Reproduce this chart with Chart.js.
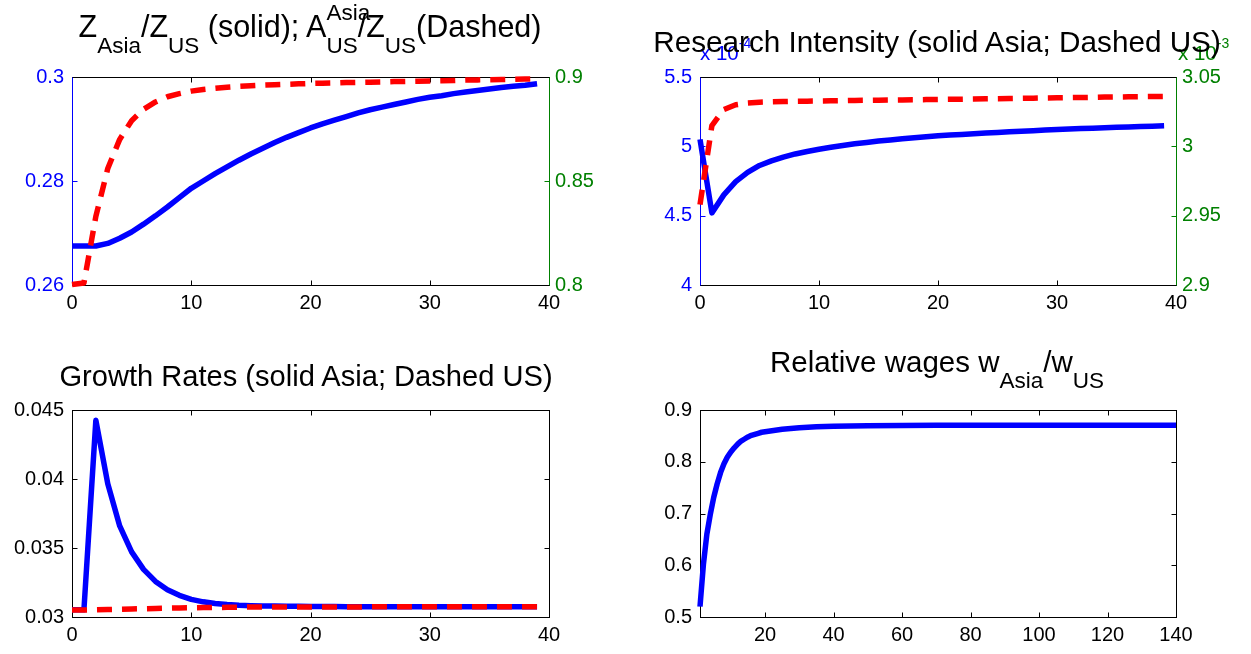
<!DOCTYPE html>
<html><head><meta charset="utf-8">
<script src="https://cdn.jsdelivr.net/npm/chart.js@4.4.0/dist/chart.umd.min.js"></script>
<style>
html,body{margin:0;padding:0;background:#fff;}
#fig{position:relative;width:1251px;height:654px;overflow:hidden;background:#fff;font-family:"Liberation Sans",Arial,sans-serif;}
canvas{position:absolute;}
.ttl{position:absolute;width:800px;text-align:center;font-size:29.5px;line-height:1;color:#000;white-space:nowrap;}
.sb{font-size:22.5px;position:relative;top:16px;}
.ss{display:inline-block;position:relative;font-size:22.5px;line-height:1;}
.ss .lo{position:relative;top:16px;}
.ss .hi{position:absolute;left:0;top:-17px;}
.exp{position:absolute;font-size:20.5px;line-height:1;white-space:nowrap;}
.exp .e{font-size:14px;position:relative;top:-12px;}
</style>
</head><body>
<div id="fig">
<canvas id="c1"></canvas><canvas id="c2"></canvas><canvas id="c3"></canvas><canvas id="c4"></canvas>
<div class="exp" style="left:700px;top:43px;color:#0000ff;">x 10<span class="e">-4</span></div>
<div class="exp" style="left:1178px;top:43px;color:#008000;">x 10<span class="e">-3</span></div>
<div class="ttl" style="left:-90px;top:11px;font-size:30.5px;">Z<span class="sb">Asia</span>/Z<span class="sb">US</span> (solid); A<span class="ss"><span class="lo">US</span><span class="hi">Asia</span></span>/Z<span class="sb">US</span>(Dashed)</div>
<div class="ttl" style="left:537px;top:27px;font-size:29.7px;">Research Intensity (solid Asia; Dashed US)</div>
<div class="ttl" style="left:-94px;top:362px;font-size:29.1px;">Growth Rates (solid Asia; Dashed US)</div>
<div class="ttl" style="left:537px;top:347px;">Relative wages w<span class="sb">Asia</span>/w<span class="sb">US</span></div>
</div>
<script>
// ---------- data ----------
const periods = [0,1,2,3,4,5,6,7,8,9,10,11,12,13,14,15,16,17,18,19,20,21,22,23,24,25,26,27,28,29,30,31,32,33,34,35,36,37,38,39];
// Panel 1: Z_Asia/Z_US (left axis, solid) and A^Asia_US/Z_US (right axis, dashed)
const zRatioAsiaUS = [0.2675,0.2675,0.2675,0.2680,0.2690,0.2702,0.2717,0.2733,0.2750,0.2768,0.2786,0.2800,0.2814,0.2827,0.2840,0.2852,0.2863,0.2874,0.2884,0.2893,0.2902,0.2910,0.2917,0.2924,0.2931,0.2937,0.2942,0.2947,0.2952,0.2957,0.2961,0.2964,0.2968,0.2971,0.2974,0.2977,0.2980,0.2982,0.2984,0.2987];
const aRatioUS = [0.8002,0.8010,0.8330,0.8560,0.8700,0.8790,0.8845,0.8880,0.8905,0.8920,0.8932,0.8940,0.8946,0.8951,0.8955,0.8958,0.8961,0.8963,0.8965,0.8967,0.8969,0.8970,0.8971,0.8973,0.8974,0.8975,0.8976,0.8978,0.8979,0.8980,0.8981,0.8982,0.8983,0.8985,0.8986,0.8987,0.8988,0.8989,0.8990,0.8991];
// Panel 2: research intensity, Asia in units of 1e-4 (left), US in units of 1e-3 (right)
const riAsia = [5.05,4.52,4.65,4.745,4.812,4.862,4.895,4.922,4.945,4.963,4.979,4.993,5.006,5.018,5.028,5.038,5.046,5.054,5.062,5.069,5.076,5.081,5.086,5.091,5.096,5.100,5.105,5.109,5.113,5.117,5.121,5.125,5.128,5.131,5.134,5.137,5.140,5.143,5.145,5.148];
const riUS = [2.958,3.015,3.0265,3.0300,3.0312,3.0318,3.0321,3.0323,3.0325,3.0326,3.0327,3.0328,3.0329,3.0331,3.0332,3.0333,3.0334,3.0335,3.0336,3.0337,3.0338,3.0339,3.0340,3.0341,3.0343,3.0344,3.0345,3.0346,3.0347,3.0349,3.0350,3.0351,3.0352,3.0353,3.0355,3.0356,3.0357,3.0358,3.0359,3.0360];
// Panel 3: growth rates
const growthAsia = [0.03052,0.03052,0.04425,0.03965,0.03660,0.03472,0.03345,0.03258,0.03198,0.03157,0.03128,0.03110,0.03098,0.03090,0.03085,0.03082,0.03080,0.03079,0.03078,0.03077,0.03076,0.03076,0.03076,0.03075,0.03075,0.03075,0.03075,0.03075,0.03075,0.03075,0.03074,0.03074,0.03074,0.03074,0.03074,0.03074,0.03074,0.03074,0.03074,0.03074];
const growthUS = [0.03050,0.03050,0.03052,0.03054,0.03056,0.03058,0.03060,0.03062,0.03064,0.03066,0.03067,0.03068,0.03069,0.03070,0.03071,0.03072,0.03072,0.03072,0.03073,0.03073,0.03073,0.03073,0.03073,0.03073,0.03073,0.03074,0.03074,0.03074,0.03074,0.03074,0.03074,0.03074,0.03074,0.03074,0.03074,0.03074,0.03074,0.03074,0.03074,0.03074];
// Panel 4: relative wages
const wagePeriods = [1,2,3,4,5,6,7,8,9,10,11,12,13,14,15,16,17,18,19,20,22,25,30,35,40,50,60,70,80,90,100,110,120,130,140];
const relWage = [0.520,0.602,0.660,0.698,0.731,0.757,0.779,0.796,0.809,0.819,0.827,0.834,0.840,0.844,0.848,0.851,0.853,0.855,0.857,0.858,0.860,0.8628,0.8658,0.8675,0.8688,0.8698,0.8702,0.8704,0.8705,0.8705,0.8705,0.8705,0.8705,0.8705,0.8705];
// tick labels
const xTicks40 = [0,10,20,30,40];
const xTicksWage = [20,40,60,80,100,120,140];
const yTicksZ = [0.26,0.28,0.3];
const yTicksA = [0.8,0.85,0.9];
const yTicksRIAsia = [4,4.5,5,5.5];
const yTicksRIUS = [2.9,2.95,3,3.05];
const yTicksGrowth = [0.03,0.035,0.04,0.045];
const yTicksWage = [0.5,0.6,0.7,0.8,0.9];

// ---------- layout helpers ----------
const PADL=72, PADR=75, PADT=14, PADB=36, TL=5;
const FONT = {family:'"Liberation Sans", Arial, sans-serif', size:20};
const BLUE='#0000ff', RED='#ff0000', GREEN='#008000';

const framePlugin = {
  id:'frame',
  beforeDatasetsDraw(chart, args, o){
    const ctx = chart.ctx, a = chart.chartArea;
    const L=Math.round(a.left)+0.5, R=Math.round(a.right)+0.5, T=Math.round(a.top)+0.5, B=Math.round(a.bottom)+0.5;
    ctx.save(); ctx.lineWidth=1; ctx.lineCap='butt';
    const seg=(x1,y1,x2,y2,c)=>{ctx.strokeStyle=c;ctx.beginPath();ctx.moveTo(x1,y1);ctx.lineTo(x2,y2);ctx.stroke();};
    const xs = chart.scales.x;
    xs.ticks.forEach(t=>{const p=Math.round(xs.getPixelForValue(t.value))+0.5; if(p>L+1&&p<R-1){seg(p,B,p,B-TL,'#000');seg(p,T,p,T+TL,'#000');}});
    const yl = chart.scales.yL, yr = chart.scales.yR;
    yl.ticks.forEach(t=>{const p=Math.round(yl.getPixelForValue(t.value))+0.5; if(p>T+1&&p<B-1){seg(L,p,L+TL,p,o.left); if(!yr) seg(R,p,R-TL,p,o.right);}});
    if(yr) yr.ticks.forEach(t=>{const p=Math.round(yr.getPixelForValue(t.value))+0.5; if(p>T+1&&p<B-1) seg(R,p,R-TL,p,o.right);});
    seg(L-0.5,T,R+0.5,T,'#000'); seg(L-0.5,B,R+0.5,B,'#000');
    seg(L,T,L,B,o.left); seg(R,T,R,B,o.right);
    ctx.restore();
  }
};

function pts(xs, ys){ return xs.map((x,i)=>({x:x, y:ys[i]})); }
function xAxis(min,max,ticks){
  return {type:'linear',position:'bottom',min,max,
    afterBuildTicks:s=>{s.ticks=ticks.map(v=>({value:v}));},
    afterFit:s=>{s.height=PADB;},
    grid:{display:false,drawTicks:false},border:{display:false},
    ticks:{color:'#000',font:FONT,padding:6,maxRotation:0,minRotation:0,autoSkip:false,callback:v=>String(v)}};
}
function yAxis(pos,min,max,ticks,color){
  return {type:'linear',position:pos,min,max,
    afterBuildTicks:s=>{s.ticks=ticks.map(v=>({value:v}));},
    afterFit:s=>{s.width=(pos==='left'?PADL:PADR);},
    grid:{display:false,drawTicks:false},border:{display:false},
    ticks:{color,font:FONT,padding:(pos==='left'?8:6),autoSkip:false,callback:v=>String(v)}};
}
function line(data,axis,color,dashed,order){
  return {data,yAxisID:axis,xAxisID:'x',borderColor:color,backgroundColor:color,borderWidth:5.5,
    borderDash:dashed?[15,10]:[],borderCapStyle:'butt',borderJoinStyle:'round',
    pointRadius:0,tension:0,fill:false,clip:false,order};
}
function makePanel(id, box, datasets, scales, spine){
  const cv=document.getElementById(id);
  const w=box.r-box.l+PADL+PADR, h=box.b-box.t+PADT+PADB;
  cv.width=w; cv.height=h; cv.style.width=w+'px'; cv.style.height=h+'px';
  cv.style.left=(box.l-PADL)+'px'; cv.style.top=(box.t-PADT)+'px';
  new Chart(cv.getContext('2d'),{type:'line',data:{datasets},
    options:{responsive:false,animation:false,events:[],devicePixelRatio:1,
      layout:{padding:{top:PADT,right:scales.yR?0:PADR,left:0,bottom:0}},
      plugins:{legend:{display:false},tooltip:{enabled:false},frame:spine},scales},
    plugins:[framePlugin]});
}

makePanel('c1',{l:72,t:71,r:549,b:285},
  [line(pts(periods,zRatioAsiaUS),'yL',BLUE,false,1), line(pts(periods,aRatioUS),'yR',RED,true,0)],
  {x:xAxis(0,40,xTicks40), yL:yAxis('left',0.26,0.3,yTicksZ,BLUE), yR:yAxis('right',0.8,0.9,yTicksA,GREEN)},
  {left:BLUE,right:GREEN});
makePanel('c2',{l:700,t:71,r:1176,b:285},
  [line(pts(periods,riAsia),'yL',BLUE,false,1), line(pts(periods,riUS),'yR',RED,true,0)],
  {x:xAxis(0,40,xTicks40), yL:yAxis('left',4,5.5,yTicksRIAsia,BLUE), yR:yAxis('right',2.9,3.05,yTicksRIUS,GREEN)},
  {left:BLUE,right:GREEN});
makePanel('c3',{l:72,t:404,r:549,b:617},
  [line(pts(periods,growthAsia),'yL',BLUE,false,1), line(pts(periods,growthUS),'yL',RED,true,0)],
  {x:xAxis(0,40,xTicks40), yL:yAxis('left',0.03,0.045,yTicksGrowth,'#000')},
  {left:'#000',right:'#000'});
makePanel('c4',{l:700,t:404,r:1176,b:617},
  [line(pts(wagePeriods,relWage),'yL',BLUE,false,0)],
  {x:xAxis(1,140,xTicksWage), yL:yAxis('left',0.5,0.9,yTicksWage,'#000')},
  {left:'#000',right:'#000'});
</script>
</body></html>
